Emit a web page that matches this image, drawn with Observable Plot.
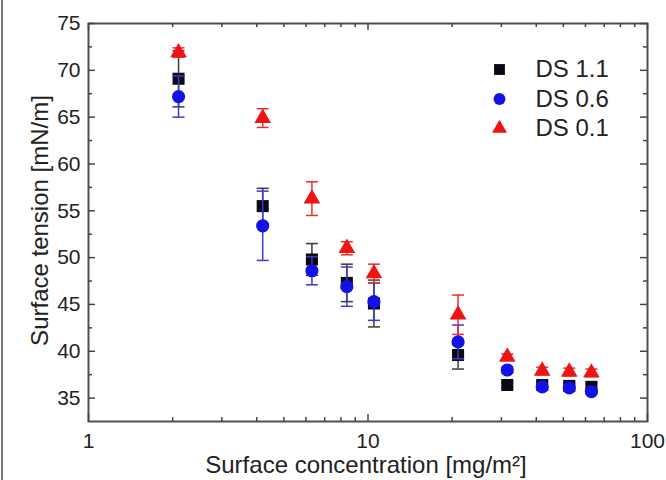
<!DOCTYPE html>
<html>
<head>
<meta charset="utf-8">
<script src="https://cdn.jsdelivr.net/npm/d3@7"></script>
<script src="https://cdn.jsdelivr.net/npm/@observablehq/plot@0.6"></script>
<style>
  html, body { margin: 0; padding: 0; background: #fff; }
  #wrap { position: relative; width: 666px; height: 480px; overflow: hidden; }
  #edge { position: absolute; left: 1px; top: 0; width: 2px; height: 480px; background: #777; }
</style>
</head>
<body>
<div id="wrap"><div id="edge"></div></div>
<script>
// ---- data ----
const concentration = [2.1, 4.2, 6.3, 8.4, 10.5, 21, 31.5, 42, 52.5, 63];
const seriesNames = ["DS 1.1", "DS 0.6", "DS 0.1"];
const ds11 = [69.1, 55.5, 49.8, 47.3, 45.1, 39.6, 36.4, 36.4, 36.3, 36.2];
const ds11Err = [3.0, 1.9, 1.7, 2.0, 2.5, 1.5, 0.3, 0.3, 0.3, 0.3];
const ds06 = [67.2, 53.4, 48.6, 46.9, 45.3, 41.0, 38.0, 36.2, 36.1, 35.7];
const ds06Err = [2.2, 3.7, 1.5, 2.1, 2.0, 1.8, 0.3, 0.3, 0.3, 0.3];
const ds01 = [71.9, 64.9, 56.3, 51.0, 48.3, 43.9, 39.4, 37.9, 37.8, 37.7];
const ds01Err = [0.5, 1.0, 1.8, 0.7, 1.0, 2.1, 0.3, 0.4, 0.4, 0.4];
const xTickValues = [1, 10, 100];
const xMinorTicks = [2, 3, 4, 5, 6, 7, 8, 9, 20, 30, 40, 50, 60, 70, 80, 90];
const yTickValues = [35, 40, 45, 50, 55, 60, 65, 70, 75];
const yMinorTicks = [37.5, 42.5, 47.5, 52.5, 57.5, 62.5, 67.5, 72.5];
const xLabel = "Surface concentration [mg/m²]";
const yLabel = "Surface tension [mN/m]";

// ---- styling ----
const styles = [
  {symbol: "square",   r: 6.8, fill: "#0a0a14", bar: "#3a3a3a"},
  {symbol: "circle",   r: 6.6, fill: "#1212e6", bar: "#3a3acc"},
  {symbol: "triangle", r: 6.2, fill: "#ee1414", bar: "#e83030"}
];
const values = [ds11, ds06, ds01];
const errors = [ds11Err, ds06Err, ds01Err];

const series = seriesNames.map((name, i) => ({
  name, ...styles[i],
  rows: concentration.map((x, j) => ({x, y: values[i][j], e: errors[i][j]}))
}));

const W = 666, H = 480;
const mL = 88, mR = 19, mT = 23, mB = 59;
const fw = W - mL - mR, fh = H - mT - mB;
const major = 7, minor = 4;
const tickColor = "#444";

const capSymbol = {draw(ctx) { ctx.moveTo(-6, 0); ctx.lineTo(6, 0); }};

const marks = [
  Plot.frame({stroke: "#505050", strokeWidth: 2}),
  // inward ticks on all four sides
  Plot.ruleX(xTickValues, {x: d => d, insetTop: fh - major, stroke: tickColor, strokeWidth: 1.5}),
  Plot.ruleX(xTickValues, {x: d => d, insetBottom: fh - major, stroke: tickColor, strokeWidth: 1.5}),
  Plot.ruleX(xMinorTicks, {x: d => d, insetTop: fh - minor, stroke: tickColor, strokeWidth: 1.5}),
  Plot.ruleX(xMinorTicks, {x: d => d, insetBottom: fh - minor, stroke: tickColor, strokeWidth: 1.5}),
  Plot.ruleY(yTickValues, {y: d => d, insetRight: fw - major, stroke: tickColor, strokeWidth: 1.5}),
  Plot.ruleY(yTickValues, {y: d => d, insetLeft: fw - major, stroke: tickColor, strokeWidth: 1.5}),
  Plot.ruleY(yMinorTicks, {y: d => d, insetRight: fw - minor, stroke: tickColor, strokeWidth: 1.5}),
  Plot.ruleY(yMinorTicks, {y: d => d, insetLeft: fw - minor, stroke: tickColor, strokeWidth: 1.5}),
  Plot.axisX({ticks: xTickValues, tickSize: 0, tickPadding: 12, fontSize: 21, tickFormat: d => String(d), label: null}),
  Plot.axisY({ticks: yTickValues, tickSize: 0, tickPadding: 8, fontSize: 21, tickFormat: d => String(d), label: null}),
  Plot.text([xLabel], {text: d => d, frameAnchor: "bottom", dy: 34, lineAnchor: "top", textAnchor: "middle", fontSize: 24, dx: -2}),
  Plot.text([yLabel], {text: d => d, frameAnchor: "left", dx: -48, dy: -2, rotate: -90, textAnchor: "middle", lineAnchor: "middle", fontSize: 24})
];

for (const s of series) {
  marks.push(
    Plot.ruleX(s.rows, {x: "x", y1: d => d.y - d.e, y2: d => d.y + d.e, stroke: s.bar, strokeWidth: 1.5}),
    Plot.dot(s.rows, {x: "x", y: d => d.y + d.e, symbol: capSymbol, stroke: s.bar, fill: "none", strokeWidth: 1.5}),
    Plot.dot(s.rows, {x: "x", y: d => d.y - d.e, symbol: capSymbol, stroke: s.bar, fill: "none", strokeWidth: 1.5}),
    Plot.dot(s.rows, {x: "x", y: "y", symbol: s.symbol, r: s.r, fill: s.fill, stroke: "none"})
  );
}

// legend inside the frame
series.forEach((s, i) => {
  marks.push(
    Plot.dot([s], {frameAnchor: "top-right", dx: -148, dy: 46 + i * 29.5, symbol: s.symbol, r: s.r * 0.9, fill: s.fill}),
    Plot.text([s], {frameAnchor: "top-right", dx: -112, dy: 46 + i * 29.5, text: d => d.name, textAnchor: "start", lineAnchor: "middle", fontSize: 24})
  );
});

const chart = Plot.plot({
  width: W, height: H,
  marginLeft: mL, marginRight: mR, marginTop: mT, marginBottom: mB,
  x: {type: "log", domain: [1, 100]},
  y: {domain: [32.5, 75]},
  style: {fontFamily: "'Liberation Sans', Arial, sans-serif", color: "#222", background: "transparent"},
  marks
});
document.getElementById("wrap").appendChild(chart);
</script>
</body>
</html>
